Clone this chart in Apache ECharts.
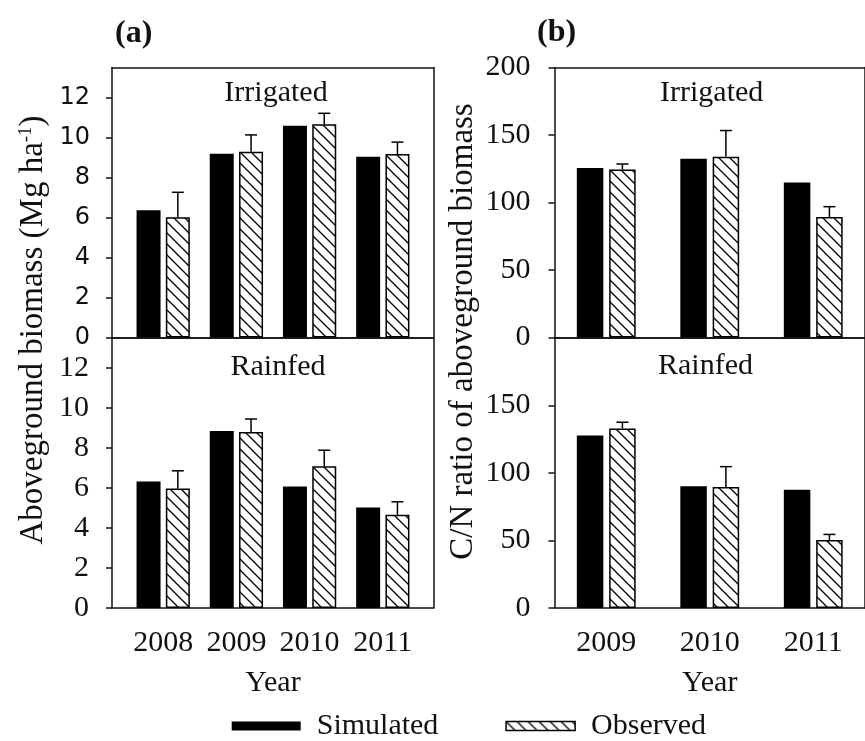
<!DOCTYPE html>
<html>
<head>
<meta charset="utf-8">
<script src="https://cdn.jsdelivr.net/npm/echarts@6/dist/echarts.min.js"></script>
<style>html,body{margin:0;padding:0;background:#fff}#c{width:865px;height:741px}</style>
</head>
<body>
<div id="c"></div>
<script>
// ---------- data ----------
const yearsA = ['2008', '2009', '2010', '2011'];
const yearsB = ['2009', '2010', '2011'];

const aIrrSim = [6.36, 9.19, 10.59, 9.04];
const aIrrObs = [6.01, 9.29, 10.66, 9.17];
const aIrrErr = [1.25, 0.84, 0.55, 0.60];

const aRainSim = [6.33, 8.85, 6.08, 5.03];
const aRainObs = [5.98, 8.80, 7.09, 4.66];
const aRainErr = [0.88, 0.65, 0.80, 0.65];

const bIrrSim = [125.5, 132.4, 114.8];
const bIrrObs = [124.4, 133.9, 89.2];
const bIrrErr = [4.1, 19.4, 7.7];

const bRainSim = [127.7, 90.1, 87.6];
const bRainObs = [132.9, 89.6, 50.3];
const bRainErr = [4.7, 15.1, 4.2];

const ticksA = [0, 2, 4, 6, 8, 10, 12];
const ticksBTop = [0, 50, 100, 150, 200];
const ticksBBot = [0, 50, 100, 150];

// ---------- styles ----------
const SERIF = '"Liberation Serif", "Times New Roman", serif';
const SANS = '"DejaVu Sans", Verdana, sans-serif';
const INK = '#111';

function hatch() {
  const s = 11;
  const c = document.createElement('canvas');
  c.width = s; c.height = s;
  const g = c.getContext('2d');
  g.fillStyle = '#fff'; g.fillRect(0, 0, s, s);
  g.strokeStyle = '#000'; g.lineWidth = 1.3;
  g.beginPath();
  for (let k = -1; k <= 1; k++) {
    g.moveTo(-1, -1 + k * s);
    g.lineTo(s + 1, s + 1 + k * s);
  }
  g.stroke();
  return c;
}
const hatchFill = { image: hatch(), repeat: 'repeat' };

// layout
const TOP1 = 67.5, H = 270, TOP2 = 338;
const FA = { left: 112, width: 321.3 };
const BA = { left: 126.6, width: 292.8 };
const FB = { left: 554.5, width: 321 };

const grids = [
  // frames 0..3
  { left: FA.left, width: FA.width, top: TOP1, height: H },
  { left: FA.left, width: FA.width, top: TOP2, height: H },
  { left: FB.left, width: FB.width, top: TOP1, height: H },
  { left: FB.left, width: FB.width, top: TOP2, height: H },
  // bars 4..7
  { left: BA.left, width: BA.width, top: TOP1, height: H },
  { left: BA.left, width: BA.width, top: TOP2, height: H },
  { left: FB.left, width: FB.width, top: TOP1, height: H },
  { left: FB.left, width: FB.width, top: TOP2, height: H },
  // names 8..9
  { left: FA.left, width: FA.width, top: 60, height: 540 },
  { left: FB.left, width: FB.width, top: 61.5, height: 540 }
];

const lineStyle = { color: INK, width: 1.5 };
const xAxes = [];
const yAxes = [];

function frameX(gi, pos) {
  xAxes.push({
    gridIndex: gi, type: 'value', min: 0, max: 1, position: pos,
    axisLine: { show: true, onZero: false, lineStyle },
    axisTick: { show: false }, axisLabel: { show: false }, splitLine: { show: false }
  });
}
function frameY(gi, max, labelTicks, tickVals, labelFont, fontSize, margin) {
  yAxes.push({
    gridIndex: gi, type: 'value', min: 0, max: max, position: 'left',
    axisLine: { show: true, onZero: false, lineStyle },
    axisTick: { show: true, length: 6, lineStyle, customValues: tickVals },
    axisLabel: { show: true, customValues: labelTicks, margin: margin, color: INK,
      fontFamily: labelFont, fontSize: fontSize },
    splitLine: { show: false }
  });
  yAxes.push({
    gridIndex: gi, type: 'value', min: 0, max: max, position: 'right',
    axisLine: { show: true, onZero: false, lineStyle },
    axisTick: { show: false }, axisLabel: { show: false }, splitLine: { show: false }
  });
}
// frame grids
frameX(0, 'bottom'); frameX(0, 'top');
frameX(1, 'bottom'); frameX(1, 'top');
frameX(2, 'bottom'); frameX(2, 'top');
frameX(3, 'bottom'); frameX(3, 'top');
frameY(0, 13.5, ticksA, ticksA, SANS, 24, 22);
frameY(1, 13.5, ticksA, ticksA, SERIF, 30, 23);
frameY(2, 200, ticksBTop, ticksBTop, SERIF, 30, 24);
frameY(3, 200, ticksBBot, ticksBBot, SERIF, 30, 24);

// bar grids
function barAxes(gi, cats, max, showLabels) {
  const xi = xAxes.length;
  xAxes.push({
    gridIndex: gi, type: 'category', data: cats,
    axisLine: { show: false }, axisTick: { show: false },
    axisLabel: { show: showLabels, interval: 0, margin: 20, color: INK, fontFamily: SERIF, fontSize: 30 },
    name: showLabels ? 'Year' : '', nameLocation: 'middle', nameGap: 60,
    nameTextStyle: { color: INK, fontFamily: SERIF, fontSize: 30 }
  });
  const yi = yAxes.length;
  yAxes.push({
    gridIndex: gi, type: 'value', min: 0, max: max, show: false
  });
  return [xi, yi];
}
const axA1 = barAxes(4, yearsA, 13.5, false);
const axA2 = barAxes(5, yearsA, 13.5, true);
const axB1 = barAxes(6, yearsB, 200, false);
const axB2 = barAxes(7, yearsB, 200, true);

// name grids
function nameAxes(gi, name, gap, rich) {
  xAxes.push({ gridIndex: gi, type: 'value', show: false });
  yAxes.push({
    gridIndex: gi, type: 'value', min: 0, max: 1,
    axisLine: { show: false }, axisTick: { show: false }, axisLabel: { show: false },
    splitLine: { show: false },
    name: name, nameLocation: 'middle', nameGap: gap,
    nameTextStyle: { color: INK, fontFamily: SERIF, fontSize: 33, rich: rich }
  });
}
nameAxes(8, 'Aboveground biomass (Mg ha{sup|-1})', 62, {
  sup: { fontFamily: SERIF, fontSize: 19, color: INK, verticalAlign: 'top' }
});
nameAxes(9, 'C/N ratio of aboveground biomass', 75, {});

function errRender(offset, cap) {
  return function (params, api) {
    const i = api.value(0), v = api.value(1), e = api.value(2);
    const p0 = api.coord([i, v]);
    const p1 = api.coord([i, v + e]);
    const x = p0[0] + offset;
    const st = { stroke: '#000', lineWidth: 1.5 };
    return {
      type: 'group', children: [
        { type: 'line', shape: { x1: x, y1: p0[1], x2: x, y2: p1[1] }, style: st },
        { type: 'line', shape: { x1: x - cap / 2, y1: p1[1], x2: x + cap / 2, y2: p1[1] }, style: st }
      ]
    };
  };
}

const series = [];
function addPanel(ax, sim, obs, err, bw) {
  const gap = bw * 0.22;
  series.push({
    name: 'Simulated', type: 'bar', xAxisIndex: ax[0], yAxisIndex: ax[1],
    data: sim, barWidth: bw, barGap: '22%',
    itemStyle: { color: '#000' }, z: 3
  });
  series.push({
    name: 'Observed', type: 'bar', xAxisIndex: ax[0], yAxisIndex: ax[1],
    data: obs, barWidth: bw, barGap: '22%',
    itemStyle: { color: hatchFill, borderColor: '#000', borderWidth: 1.5 }, z: 3
  });
  series.push({
    name: 'err', type: 'custom', xAxisIndex: ax[0], yAxisIndex: ax[1],
    data: obs.map((v, i) => [i, v, err[i]]),
    renderItem: errRender((bw + gap) / 2, 12), z: 4, silent: true
  });
}
addPanel(axA1, aIrrSim, aIrrObs, aIrrErr, 24);
addPanel(axA2, aRainSim, aRainObs, aRainErr, 24);
addPanel(axB1, bIrrSim, bIrrObs, bIrrErr, 26.5);
addPanel(axB2, bRainSim, bRainObs, bRainErr, 26.5);

function label(text, x, y, font, align) {
  return { type: 'text', x: x, y: y, z: 10,
    style: { text: text, font: font, fill: INK, textAlign: align || 'center', textVerticalAlign: 'middle' } };
}

const option = {
  animation: false,
  backgroundColor: '#fff',
  grid: grids,
  xAxis: xAxes,
  yAxis: yAxes,
  series: series,
  legend: {
    left: 231.7, top: 711, padding: 0,
    itemWidth: 69, itemHeight: 9, itemGap: 67,
    icon: 'rect',
    textStyle: { color: INK, fontFamily: SERIF, fontSize: 30, padding: [0, 0, 0, 11] },
    data: [
      { name: 'Simulated', itemStyle: { color: '#000' } },
      { name: 'Observed', itemStyle: { color: hatchFill, borderColor: '#000', borderWidth: 1.5 } }
    ]
  },
  graphic: [
    label('(a)', 115, 34, 'bold 32px ' + SERIF, 'left'),
    label('(b)', 537, 33, 'bold 32px ' + SERIF, 'left'),
    label('Irrigated', 276, 93, '30px ' + SERIF),
    label('Rainfed', 278, 367, '30px ' + SERIF),
    label('Irrigated', 711.7, 93, '30px ' + SERIF),
    label('Rainfed', 705.5, 366, '30px ' + SERIF)
  ]
};

const chart = echarts.init(document.getElementById('c'), null, { renderer: 'canvas' });
chart.setOption(option);
</script>
</body>
</html>
